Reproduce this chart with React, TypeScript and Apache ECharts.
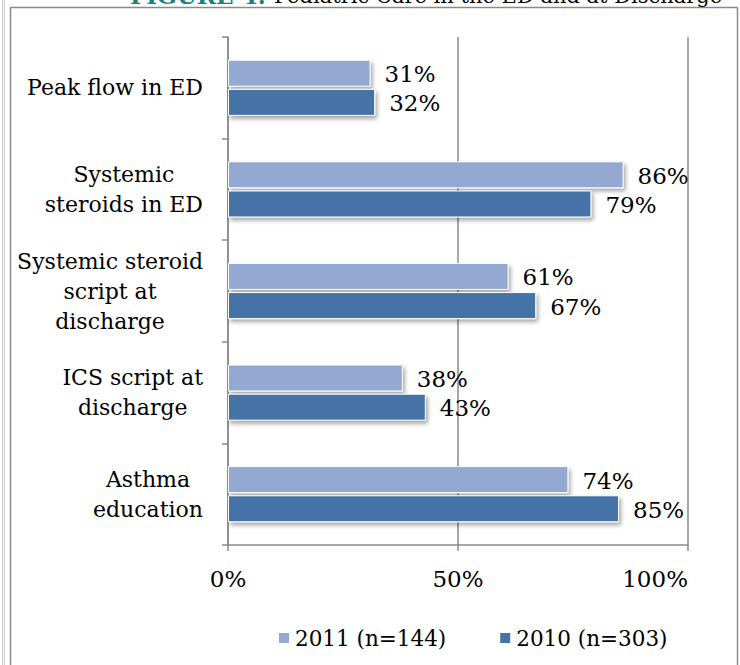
import React, { useEffect, useRef } from "react";
import * as echarts from "echarts";

const categories = [
  "Peak flow in ED",
  "Systemic\nsteroids in ED",
  "Systemic steroid\nscript at\ndischarge",
  "ICS script at\ndischarge",
  "Asthma\neducation",
];
const seriesNames = ["2011 (n=144)", "2010 (n=303)"];
const values2011 = [31, 86, 61, 38, 74];
const values2010 = [32, 79, 67, 43, 85];
const xTicks = [0, 50, 100];

const FONT = "DejaVu Serif";

export default function App() {
  const ref = useRef<HTMLDivElement>(null);
  useEffect(() => {
    if (!ref.current) return;
    const chart = echarts.init(ref.current, undefined, { renderer: "svg" });
    const barStyle = (color: string) => ({
      color,
      borderColor: "#ffffff",
      borderWidth: 1,
      shadowColor: "rgba(0,0,0,0.35)",
      shadowBlur: 4,
      shadowOffsetX: 2,
      shadowOffsetY: 3,
    });
    const label = {
      show: true,
      position: "right",
      distance: 14,
      formatter: "{c}%",
      fontFamily: FONT,
      fontSize: 23,
      color: "#000",
      offset: [0, 1],
    };
    chart.setOption({
      animation: false,
      backgroundColor: "#ffffff",
      textStyle: { fontFamily: FONT },
      grid: { left: 228, right: 52, top: 37, bottom: 120, containLabel: false },
      legend: {
        data: seriesNames,
        bottom: 11,
        left: 272,
        icon: "rect",
        itemWidth: 12,
        itemHeight: 12,
        itemGap: 52,
        textStyle: { fontFamily: FONT, fontSize: 21.5, color: "#000" },
      },
      xAxis: {
        type: "value",
        min: xTicks[0],
        max: xTicks[xTicks.length - 1],
        interval: 50,
        axisLine: { show: true, lineStyle: { color: "#8a8a8a", width: 1.5 } },
        axisTick: { show: true, length: 6, lineStyle: { color: "#8a8a8a", width: 1.5 } },
        splitLine: { show: true, lineStyle: { color: "#8a8a8a", width: 1.5 } },
        axisLabel: {
          formatter: "{value}%",
          fontFamily: FONT,
          fontSize: 23,
          color: "#000",
          margin: 22,
          alignMaxLabel: "right",
        },
      },
      yAxis: {
        type: "category",
        inverse: true,
        data: categories,
        axisLine: { show: true, lineStyle: { color: "#8a8a8a", width: 1.5 } },
        axisTick: { show: true, length: 6, lineStyle: { color: "#8a8a8a", width: 1.5 } },
        axisLabel: {
          margin: 25,
          color: "#000",
          fontFamily: FONT,
          fontSize: 22,
          lineHeight: 30,
          formatter: (v: string) =>
            v
              .split("\n")
              .map((l) => `{c|${l}}`)
              .join("\n"),
          rich: {
            c: { align: "center", fontFamily: FONT, fontSize: 22, lineHeight: 30, color: "#000" },
          },
        },
      },
      series: [
        {
          name: seriesNames[0],
          type: "bar",
          data: values2011,
          barWidth: 27,
          barGap: "8%",
          itemStyle: barStyle("#93a9d1"),
          label,
        },
        {
          name: seriesNames[1],
          type: "bar",
          data: values2010,
          barWidth: 27,
          barGap: "8%",
          itemStyle: barStyle("#4572a7"),
          label,
        },
      ],
      graphic: [
        { type: "line", shape: { x1: 2.5, y1: 0, x2: 2.5, y2: 665 }, style: { stroke: "#c8c8c8", lineWidth: 1 } },
        { type: "line", shape: { x1: 4.5, y1: 0, x2: 4.5, y2: 665 }, style: { stroke: "#c8c8c8", lineWidth: 1 } },
        { type: "line", shape: { x1: 10.5, y1: 7.5, x2: 10.5, y2: 665 }, style: { stroke: "#8a8a8a", lineWidth: 1.5 } },
        { type: "line", shape: { x1: 10, y1: 7.5, x2: 737.5, y2: 7.5 }, style: { stroke: "#8a8a8a", lineWidth: 1.5 } },
        { type: "line", shape: { x1: 737.5, y1: 7.5, x2: 737.5, y2: 665 }, style: { stroke: "#8a8a8a", lineWidth: 1.5 } },
        {
          type: "text",
          left: 130,
          top: -16,
          style: {
            text: "{t|FIGURE 4:}{b|Pediatric Care in the ED and at Discharge}",
            rich: {
              t: { fill: "#1d7f80", fontFamily: FONT, fontSize: 23, fontWeight: "bold", padding: [0, 8, 0, 0] },
              b: { fill: "#000", fontFamily: FONT, fontSize: 21 },
            },
          },
        },
      ],
    });
    return () => chart.dispose();
  }, []);
  return (
    <div
      ref={ref}
      style={{ position: "fixed", left: 0, top: 0, width: 740, height: 665, background: "#fff" }}
    />
  );
}
